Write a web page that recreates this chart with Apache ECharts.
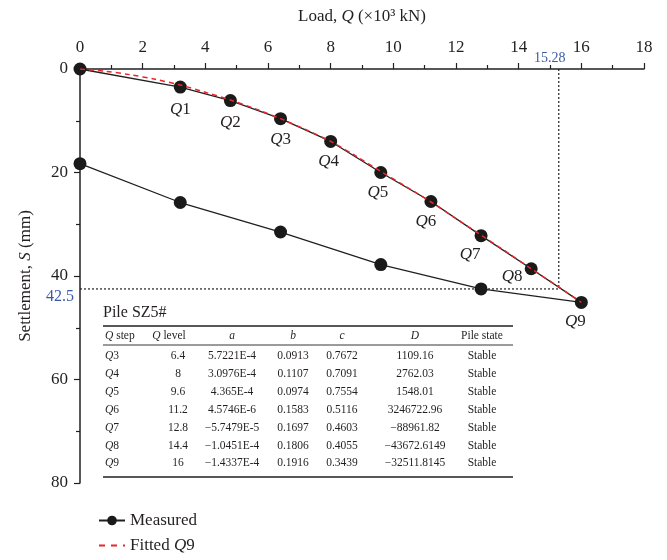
<!DOCTYPE html>
<html>
<head>
<meta charset="utf-8">
<script src="https://cdn.jsdelivr.net/npm/echarts@6/dist/echarts.min.js"></script>
<style>html,body{margin:0;padding:0;background:#fff;}#c{width:667px;height:560px;}</style>
</head>
<body>
<div id="c"></div>
<script>
// ---------- data ----------
const loadQ   = [0, 3.2, 4.8, 6.4, 8, 9.6, 11.2, 12.8, 14.4, 16];
const loadS   = [0, 3.5, 6.1, 9.6, 14.0, 20.0, 25.6, 32.2, 38.6, 45.1];
const stepNames = ['', 'Q1', 'Q2', 'Q3', 'Q4', 'Q5', 'Q6', 'Q7', 'Q8', 'Q9'];
const unloadQ = [12.8, 9.6, 6.4, 3.2, 0];
const unloadS = [42.5, 37.8, 31.5, 25.8, 18.3];
const fitQ = [0, 0.8, 1.6, 2.4, 3.2, 4.0, 4.8, 5.6, 6.4, 7.2, 8, 8.8, 9.6, 10.4, 11.2, 12, 12.8, 13.6, 14.4, 15.2, 16];
const fitS = [0, 0.44, 1.1, 2.0, 3.1, 4.5, 6.0, 7.7, 9.6, 11.7, 14.0, 16.8, 19.8, 22.7, 25.7, 28.9, 32.1, 35.3, 38.6, 41.8, 45.1];
const ultimateQ = 15.28;
const ultimateS = 42.5;

const tableTitle = 'Pile SZ5#';
const tableHeader = ['{i|Q} step', '{i|Q} level', '{i|a}', '{i|b}', '{i|c}', '{i|D}', 'Pile state'];
const tableStep  = ['Q3', 'Q4', 'Q5', 'Q6', 'Q7', 'Q8', 'Q9'];
const tableLevel = ['6.4', '8', '9.6', '11.2', '12.8', '14.4', '16'];
const tableA = ['5.7221E-4', '3.0976E-4', '4.365E-4', '4.5746E-6', '\u22125.7479E-5', '\u22121.0451E-4', '\u22121.4337E-4'];
const tableB = ['0.0913', '0.1107', '0.0974', '0.1583', '0.1697', '0.1806', '0.1916'];
const tableC = ['0.7672', '0.7091', '0.7554', '0.5116', '0.4603', '0.4055', '0.3439'];
const tableD = ['1109.16', '2762.03', '1548.01', '3246722.96', '\u221288961.82', '\u221243672.6149', '\u221232511.8145'];
const tableState = ['Stable', 'Stable', 'Stable', 'Stable', 'Stable', 'Stable', 'Stable'];

// ---------- styling ----------
const FONT = '"Liberation Serif", "DejaVu Serif", serif';
const INK = '#231f20';
const BLUE = '#3b5aa6';
const labelOffsets = [null, [0, 22], [0, 22], [0, 21], [-2, 20], [-3, 20], [-5, 20], [-11, 19], [-19, 8], [-6, 19]];

const measuredData = [];
loadQ.forEach((q, i) => {
  const item = { value: [q, loadS[i]] };
  if (stepNames[i]) {
    item.label = {
      show: true, position: 'inside', offset: labelOffsets[i],
      formatter: '{i|Q}' + stepNames[i].slice(1),
      fontFamily: FONT, fontSize: 17, color: INK,
      rich: { i: { fontFamily: FONT, fontSize: 17, fontStyle: 'italic', color: INK } }
    };
  }
  measuredData.push(item);
});
unloadQ.forEach((q, i) => measuredData.push({ value: [q, unloadS[i]] }));

const fitData = fitQ.map((q, i) => [q, fitS[i]]);

const chart = echarts.init(document.getElementById('c'), null, { renderer: 'canvas' });

const option = {
  backgroundColor: '#fff',
  animation: false,
  grid: { left: 80, top: 69, right: 23, bottom: 77, containLabel: false },
  xAxis: {
    type: 'value', position: 'top', min: 0, max: 18, interval: 2,
    name: 'Load, {i|Q} (\u00d710\u00b3 kN)', nameLocation: 'middle', nameGap: 44,
    nameTextStyle: { fontFamily: FONT, fontSize: 17, color: INK,
      rich: { i: { fontFamily: FONT, fontSize: 17, fontStyle: 'italic', color: INK } } },
    axisLine: { show: true, lineStyle: { color: INK, width: 1.5 } },
    axisTick: { show: true, inside: false, length: 6, lineStyle: { color: INK, width: 1.2 } },
    minorTick: { show: true, splitNumber: 2, length: 4, lineStyle: { color: INK, width: 1.2 } },
    axisLabel: { fontFamily: FONT, fontSize: 17, color: INK, margin: 13 },
    splitLine: { show: false }
  },
  yAxis: {
    type: 'value', inverse: true, min: 0, max: 80, interval: 20,
    name: 'Settlement, {i|S} (mm)', nameLocation: 'middle', nameGap: 46, nameRotate: 90,
    nameTextStyle: { fontFamily: FONT, fontSize: 17, color: INK,
      rich: { i: { fontFamily: FONT, fontSize: 17, fontStyle: 'italic', color: INK } } },
    axisLine: { show: true, lineStyle: { color: INK, width: 1.5 } },
    axisTick: { show: true, inside: false, length: 6, lineStyle: { color: INK, width: 1.2 } },
    minorTick: { show: true, splitNumber: 2, length: 4, lineStyle: { color: INK, width: 1.2 } },
    axisLabel: { fontFamily: FONT, fontSize: 17, color: INK, margin: 12 },
    splitLine: { show: false }
  },
  legend: {
    data: ['Measured', { name: 'Fitted Q9', itemStyle: { opacity: 0 }, lineStyle: { type: [6, 6] } }],
    orient: 'vertical', left: 93, top: 507,
    itemWidth: 26, itemHeight: 12, itemGap: 8,
    formatter: n => n === 'Fitted Q9' ? 'Fitted {i|Q}9' : n,
    textStyle: { fontFamily: FONT, fontSize: 17, color: INK,
      rich: { i: { fontFamily: FONT, fontSize: 17, fontStyle: 'italic', color: INK } } }
  },
  series: [
    {
      name: 'ultH', type: 'line', symbol: 'none', silent: true, z: 1,
      data: [[0, ultimateS], [ultimateQ, ultimateS]],
      lineStyle: { color: INK, width: 1.2, type: [2, 2] }
    },
    {
      name: 'ultV', type: 'line', symbol: 'none', silent: true, z: 1,
      data: [[ultimateQ, 0], [ultimateQ, ultimateS]],
      lineStyle: { color: INK, width: 1.2, type: [2, 2] }
    },
    {
      name: 'Measured', type: 'line', data: measuredData, z: 3,
      symbol: 'circle', symbolSize: 13,
      itemStyle: { color: '#1a1a1a' },
      lineStyle: { color: INK, width: 1.3 }
    },
    {
      name: 'Fitted Q9', type: 'line', data: fitData, z: 4,
      symbol: 'none', smooth: 0.3,
      itemStyle: { color: '#e8262b' },
      lineStyle: { color: '#e8262b', width: 1.5, type: [5, 4] }
    }
  ]
};
chart.setOption(option);

// ---------- annotations & table ----------
const pTop = chart.convertToPixel({ gridIndex: 0 }, [ultimateQ, 0]);
const pLeft = chart.convertToPixel({ gridIndex: 0 }, [0, ultimateS]);

const g = [];
g.push({ type: 'text', z: 10, style: { text: String(ultimateQ), x: pTop[0] - 9, y: pTop[1] - 11,
  font: '14px ' + FONT, fill: BLUE, align: 'center', verticalAlign: 'middle' } });
g.push({ type: 'text', z: 10, style: { text: String(ultimateS), x: pLeft[0] - 20, y: pLeft[1] + 8,
  font: '16px ' + FONT, fill: BLUE, align: 'center', verticalAlign: 'middle' } });

// table
const tx0 = 103, tx1 = 513;
g.push({ type: 'rect', z: 5, shape: { x: tx0, y: 300, width: tx1 - tx0, height: 180 }, style: { fill: '#fff' } });
g.push({ type: 'text', z: 10, style: { text: tableTitle, x: tx0, y: 313, font: '16px ' + FONT, fill: INK,
  align: 'left', verticalAlign: 'middle' } });
g.push({ type: 'line', z: 10, shape: { x1: tx0, y1: 326, x2: tx1, y2: 326 }, style: { stroke: INK, lineWidth: 1.3 } });
g.push({ type: 'line', z: 10, shape: { x1: tx0, y1: 345, x2: tx1, y2: 345 }, style: { stroke: INK, lineWidth: 0.9 } });
g.push({ type: 'line', z: 10, shape: { x1: tx0, y1: 477, x2: tx1, y2: 477 }, style: { stroke: INK, lineWidth: 1.3 } });

const richT = { i: { fontFamily: FONT, fontSize: 11.5, fontStyle: 'italic', fill: INK, color: INK } };
const headX = [105, 169, 232, 293, 342, 415, 482];
const colX = [105, 178, 232, 293, 342, 415, 482];
tableHeader.forEach((h, j) => {
  g.push({ type: 'text', z: 10, style: { text: h, x: headX[j], y: 336, fontFamily: FONT, fontSize: 11.5, fill: INK,
    align: j === 0 ? 'left' : 'center', verticalAlign: 'middle', rich: richT } });
});
const cols = [tableStep.map(s => '{i|Q}' + s.slice(1)), tableLevel, tableA, tableB, tableC, tableD, tableState];
tableStep.forEach((_, r) => {
  const y = 356 + r * 17.9;
  cols.forEach((col, j) => {
    g.push({ type: 'text', z: 10, style: { text: col[r], x: colX[j], y: y, fontFamily: FONT, fontSize: 11.5, fill: INK,
      align: j === 0 ? 'left' : 'center', verticalAlign: 'middle', rich: richT } });
  });
});
chart.setOption({ graphic: { elements: g } });
</script>
</body>
</html>
